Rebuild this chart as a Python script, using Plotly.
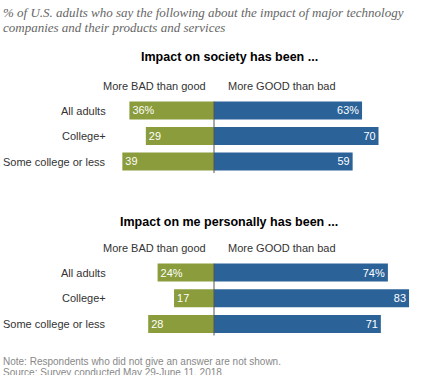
import plotly.graph_objects as go

groups = ["All adults", "College+", "Some college or less"]
society_bad = [36, 29, 39]
society_good = [63, 70, 59]
personal_bad = [24, 17, 28]
personal_good = [74, 83, 71]

title_lines = ["% of U.S. adults who say the following about the impact of major technology",
               "companies and their products and services"]
panel_titles = ["Impact on society has been ...", "Impact on me personally has been ..."]
bad_label = "More BAD than good"
good_label = "More GOOD than bad"
note = "Note: Respondents who did not give an answer are not shown."
source = "Source: Survey conducted May 29-June 11, 2018."

GREEN = "#8a9c3b"
BLUE = "#2b6399"
W, H = 422, 375
ZERO_PX = 214
PX_PER = 2.35

def labels(vals):
    return [f"{v}%" if i == 0 else str(v) for i, v in enumerate(vals)]

fig = go.Figure()
panels = [(society_bad, society_good, "y"), (personal_bad, personal_good, "y2")]
for bad, good, ya in panels:
    fig.add_trace(go.Bar(y=groups, x=[-v for v in bad], orientation="h", yaxis=ya,
                         marker=dict(color=GREEN, line=dict(width=0)), width=0.7,
                         text=labels(bad), textposition="inside", insidetextanchor="end",
                         textfont=dict(color="white", size=11, family="Liberation Sans"),
                         hoverinfo="skip", showlegend=False))
    fig.add_trace(go.Bar(y=groups, x=good, orientation="h", yaxis=ya,
                         marker=dict(color=BLUE, line=dict(width=0)), width=0.7,
                         text=labels(good), textposition="inside", insidetextanchor="end",
                         textfont=dict(color="white", size=11, family="Liberation Sans"),
                         hoverinfo="skip", showlegend=False))

def px_to_paper_y(py):
    return (H - py) / H

xr = [-ZERO_PX / PX_PER, (W - ZERO_PX) / PX_PER]
top_dom = [px_to_paper_y(174.25), px_to_paper_y(97.75)]
bot_dom = [px_to_paper_y(336.75), px_to_paper_y(259.75)]

fig.update_layout(
    width=W, height=H, margin=dict(l=0, r=0, t=0, b=0),
    paper_bgcolor="white", plot_bgcolor="white", barmode="relative",
    xaxis=dict(range=xr, domain=[0, 1], visible=False, fixedrange=True),
    yaxis=dict(domain=top_dom, range=[2.5, -0.5], visible=False, type="category"),
    yaxis2=dict(domain=bot_dom, range=[2.5, -0.5], visible=False, type="category", anchor="x"),
    uniformtext=dict(minsize=8),
)

ann = []
# title
for i, line in enumerate(title_lines):
    ann.append(dict(text=f"<i>{line}</i>", x=1 / W, y=px_to_paper_y(13 + i * 15), xref="paper", yref="paper",
                    xanchor="left", yanchor="middle", showarrow=False,
                    font=dict(family="Liberation Serif", size=13, color="#666666")))
# panel headings
for title, ty, sy in [(panel_titles[0], 57, 86), (panel_titles[1], 222, 248)]:
    ann.append(dict(text=f"<b>{title}</b>", x=229 / W, y=px_to_paper_y(ty), xref="paper", yref="paper",
                    xanchor="center", yanchor="middle", showarrow=False,
                    font=dict(family="Liberation Sans", size=12.5, color="#000000")))
    ann.append(dict(text=bad_label, x=208 / W, y=px_to_paper_y(sy), xref="paper", yref="paper",
                    xanchor="right", yanchor="middle", showarrow=False,
                    font=dict(family="Liberation Sans", size=11, color="#333333")))
    ann.append(dict(text=good_label, x=226 / W, y=px_to_paper_y(sy), xref="paper", yref="paper",
                    xanchor="left", yanchor="middle", showarrow=False,
                    font=dict(family="Liberation Sans", size=11, color="#333333")))
# category labels
for yref in ["y", "y2"]:
    for g in groups:
        ann.append(dict(text=g, x=108 / W, y=g, xref="paper", yref=yref,
                        xanchor="right", yanchor="middle", showarrow=False,
                        font=dict(family="Liberation Sans", size=11, color="#333333")))
# note/source
ann.append(dict(text=note, x=1 / W, y=px_to_paper_y(361), xref="paper", yref="paper",
                xanchor="left", yanchor="middle", showarrow=False,
                font=dict(family="Liberation Sans", size=10, color="#888888")))
ann.append(dict(text=source, x=1 / W, y=px_to_paper_y(372), xref="paper", yref="paper",
                xanchor="left", yanchor="middle", showarrow=False,
                font=dict(family="Liberation Sans", size=10, color="#888888")))
fig.update_layout(annotations=ann)

for yref in ["y", "y2"]:
    fig.add_shape(type="line", xref="x", yref=yref, x0=0, x1=0, y0=-0.35, y1=2.45,
                  line=dict(color="#555555", width=1))

fig.write_html("out.html", config={"displayModeBar": False},
               post_script="document.body.style.margin='0';document.body.style.overflow='hidden';")
